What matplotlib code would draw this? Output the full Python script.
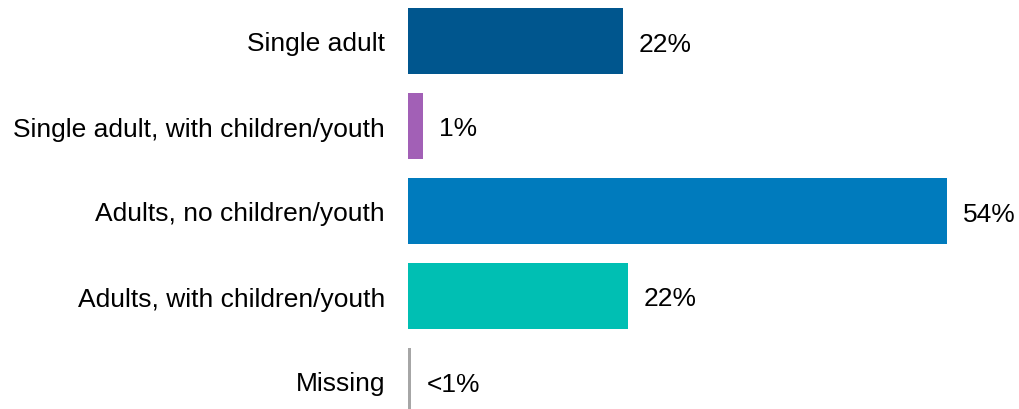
import matplotlib
matplotlib.use("Agg")
import matplotlib.pyplot as plt

categories = ["Single adult", "Single adult, with children/youth",
              "Adults, no children/youth", "Adults, with children/youth", "Missing"]
values = [21.5, 1.5, 54.0, 22.0, 0.3]
labels = ["22%", "1%", "54%", "22%", "<1%"]
colors = ["#00568E", "#A260B6", "#007BBD", "#00BFB3", "#A6A6A6"]

plt.rcParams['font.family'] = ['Liberation Sans', 'DejaVu Sans']

fig = plt.figure(figsize=(10.2, 4.1), dpi=100)
ax = fig.add_axes([408/1020, 0, 560/1020, 1])
px_per_unit = 539/54.0
ax.set_xlim(0, 560/px_per_unit)
ypos = list(range(len(categories)))
ax.barh(ypos, values, height=66/85, color=colors)
ax.set_ylim(4 + 28/85, -42/85)
ax.set_yticks(ypos)
ax.set_yticklabels(categories, fontsize=19)
ax.tick_params(axis='y', length=0, pad=16.5)
ax.set_xticks([])
for s in ax.spines.values():
    s.set_visible(False)
for y, v, lab in zip(ypos, values, labels):
    ax.annotate(lab, (v, y), xytext=(16*0.72, 0), textcoords='offset points',
                va='center_baseline', ha='left', fontsize=19)
fig.savefig("out.png", dpi=100)
